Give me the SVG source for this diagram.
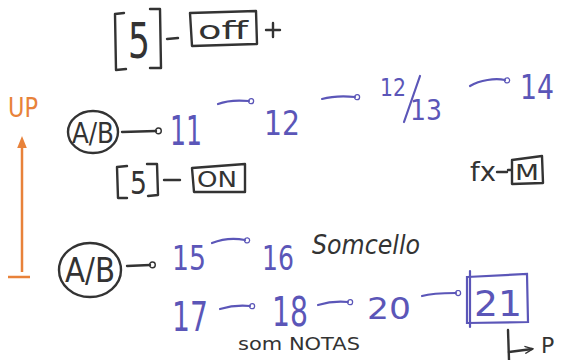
<svg xmlns="http://www.w3.org/2000/svg" width="563" height="360" viewBox="0 0 563 360">
<defs>
<marker id="dot" viewBox="0 0 10 10" refX="2" refY="5" markerWidth="7" markerHeight="7" markerUnits="userSpaceOnUse" orient="auto">
<circle cx="5" cy="5" r="3.6" fill="none" stroke="#5b56b8" stroke-width="1.8"/>
</marker>
<marker id="dotb" viewBox="0 0 10 10" refX="2" refY="5" markerWidth="8" markerHeight="8" markerUnits="userSpaceOnUse" orient="auto">
<circle cx="5" cy="5" r="3.6" fill="none" stroke="#333" stroke-width="1.8"/>
</marker>
<marker id="oarr" viewBox="0 0 10 10" refX="5" refY="5" markerWidth="12" markerHeight="12" markerUnits="userSpaceOnUse" orient="auto">
<path d="M0,1 L10,5 L0,9 Z" fill="#e8823a"/>
</marker>
<marker id="karr" viewBox="0 0 10 10" refX="8" refY="5" markerWidth="9" markerHeight="9" markerUnits="userSpaceOnUse" orient="auto">
<path d="M0,1 L9,5 L0,9" fill="none" stroke="#333" stroke-width="1.6"/>
</marker>
</defs>
<style>
.k{stroke:#333;fill:none;stroke-width:2.4;stroke-linecap:round;stroke-linejoin:round}
.p{stroke:#5b56b8;fill:none;stroke-width:2.2;stroke-linecap:round}
.pt{fill:#5b56b8;font-family:"DejaVu Sans",sans-serif}
.kt{fill:#333;font-family:"DejaVu Sans",sans-serif}
.ot{fill:#e8823a;font-family:"DejaVu Sans",sans-serif}
</style>
<rect width="563" height="360" fill="#fff"/>
<g id="s-off">
<path class="k" d="M124,13 L115,14 L116,70 L126,69"/>
<text class="kt" x="128" y="58" font-size="50" textLength="22" lengthAdjust="spacingAndGlyphs">5</text>
<path class="k" d="M150,9 L160,9 L161,68 L150,68"/>
<path class="k" d="M167,39 L178,38"/>
<path class="k" d="M190,13 L256,11 L257,44 L192,46 Z"/>
<text class="kt" x="198" y="39" font-size="24" textLength="50" lengthAdjust="spacingAndGlyphs">off</text>
<path class="k" d="M266,30 L280,30 M273,23 L273,37"/>
</g>
<g id="up">
<text class="ot" x="8" y="117" font-size="26" textLength="30" lengthAdjust="spacingAndGlyphs">UP</text>
</g>
<g id="ab1">
<ellipse class="k" cx="93" cy="132" rx="25" ry="21"/>
<text class="kt" x="72" y="143" font-size="28" textLength="42" lengthAdjust="spacingAndGlyphs">A/B</text>
</g>
<g id="n11"><text class="pt" x="170" y="145" font-size="40" textLength="32" lengthAdjust="spacingAndGlyphs">11</text></g>
<g id="n12"><text class="pt" x="264" y="135" font-size="34" textLength="36" lengthAdjust="spacingAndGlyphs">12</text></g>
<g id="n1213">
<text class="pt" x="380" y="96" font-size="24" textLength="26" lengthAdjust="spacingAndGlyphs">12</text>
<path class="p" d="M420,76 L404,122"/>
<text class="pt" x="410" y="120" font-size="28" textLength="32" lengthAdjust="spacingAndGlyphs">13</text>
</g>
<g id="n14"><text class="pt" x="520" y="99" font-size="34" textLength="34" lengthAdjust="spacingAndGlyphs">14</text></g>
<g id="s-on">
<path class="k" d="M127,166 L117,167 L118,198 L127,198"/>
<text class="kt" x="130" y="194" font-size="32" textLength="17" lengthAdjust="spacingAndGlyphs">5</text>
<path class="k" d="M147,164 L157,164 L158,195 L148,196"/>
<path class="k" d="M164,180 L180,180"/>
<path class="k" d="M192,168 L245,164 L245,192 L194,192 Z"/>
<text class="kt" x="197" y="187" font-size="22" textLength="40" lengthAdjust="spacingAndGlyphs">ON</text>
</g>
<g id="fx-m">
<text class="kt" x="470" y="181" font-size="26" textLength="26" lengthAdjust="spacingAndGlyphs">fx</text>
<path class="k" d="M497,172 L507,172"/>
<path class="k" d="M512,160 L542,156 L543,183 L512,184 Z M508,170 L512,170"/>
<text class="kt" x="515" y="180" font-size="22" textLength="24" lengthAdjust="spacingAndGlyphs">M</text>
</g>
<g id="ab2">
<ellipse class="k" cx="90" cy="270" rx="31" ry="27"/>
<text class="kt" x="65" y="282" font-size="34" textLength="50" lengthAdjust="spacingAndGlyphs">A/B</text>
</g>
<g id="n15"><text class="pt" x="172" y="270" font-size="34" textLength="34" lengthAdjust="spacingAndGlyphs">15</text></g>
<g id="n16"><text class="pt" x="262" y="270" font-size="34" textLength="32" lengthAdjust="spacingAndGlyphs">16</text></g>
<g id="somcello"><text class="kt" x="312" y="254" font-size="26" font-style="italic" textLength="108" lengthAdjust="spacingAndGlyphs">Somcello</text></g>
<g id="n17"><text class="pt" x="172" y="331" font-size="40" textLength="36" lengthAdjust="spacingAndGlyphs">17</text></g>
<g id="n18"><text class="pt" x="272" y="326" font-size="40" textLength="36" lengthAdjust="spacingAndGlyphs">18</text></g>
<g id="n20"><text class="pt" x="367" y="319" font-size="30" textLength="44" lengthAdjust="spacingAndGlyphs">20</text></g>
<g id="n21">
<path class="p" d="M467,277 L527,274 L528,322 L467,323 Z"/>
<path class="p" d="M470,271 L470,327"/>
<text class="pt" x="474" y="316" font-size="36" textLength="48" lengthAdjust="spacingAndGlyphs">21</text>
</g>
<g id="somnotas"><text class="kt" x="238" y="350" font-size="17" textLength="122" lengthAdjust="spacingAndGlyphs">som NOTAS</text></g>
<g id="pr"><text class="kt" x="541" y="353" font-size="22">P</text></g>
<g id="connectors">
<path d="M22,272 L22,142" stroke="#e8823a" stroke-width="2.5" fill="none" marker-end="url(#oarr)"/>
<path d="M8,277 L30,277" stroke="#e8823a" stroke-width="2.5"/>
<path class="k" d="M122,132 L156,131" marker-end="url(#dotb)"/>
<path class="p" d="M218,104 C228,100 238,100 249,101" marker-end="url(#dot)"/>
<path class="p" d="M322,99 C333,96 344,96 355,97" marker-end="url(#dot)"/>
<path class="p" d="M470,86 C480,80 495,78 505,80" marker-end="url(#dot)"/>
<path class="k" d="M127,266 L150,265" marker-end="url(#dotb)"/>
<path class="p" d="M212,243 C222,239 235,238 245,240" marker-end="url(#dot)"/>
<path class="p" d="M220,309 C230,306 240,305 250,306" marker-end="url(#dot)"/>
<path class="p" d="M318,305 C328,302 338,301 348,302" marker-end="url(#dot)"/>
<path class="p" d="M422,296 C432,293 445,293 456,293" marker-end="url(#dot)"/>
<path class="k" d="M508,330 L509,360"/>
<path class="k" d="M509,352 L532,349" marker-end="url(#karr)"/>
</g>
</svg>
